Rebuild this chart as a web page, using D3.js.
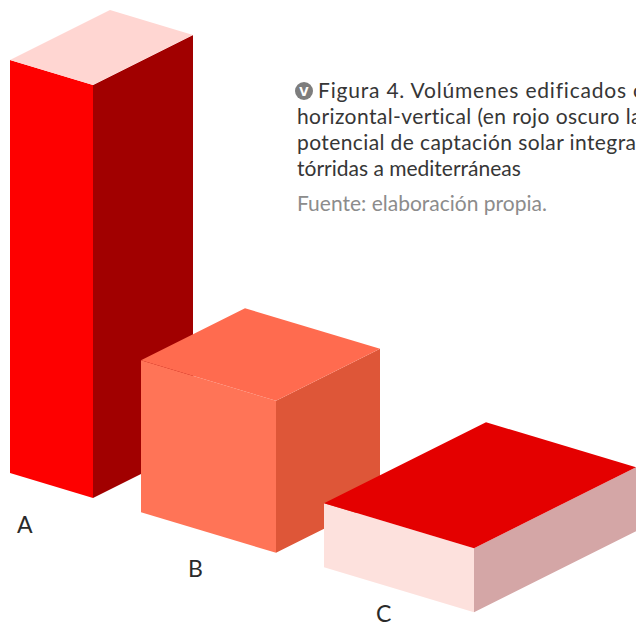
<!DOCTYPE html>
<html>
<head>
<meta charset="utf-8">
<script src="https://d3js.org/d3.v7.min.js"></script>
<style>
    body { margin: 0; background: #fff; overflow: hidden; }
    svg { display: block; }
</style>
</head>
<body>
<svg width="636" height="624"></svg>
<script>
    // volumes (units = metres-ish)
    const categories = ['A', 'B', 'C'];
    const widths  = [8.3, 13.5, 15.0];   // along the front edge
    const depths  = [10.0, 10.4, 16.2];  // going back to the right
    const heights = [41.3, 15.2, 6.4];

    const frontColors = ['#fe0000', '#ff7457', '#fde1dd'];
    const sideColors  = ['#a10000', '#de5638', '#d4a6a6'];
    const topColors   = ['#ffd6d2', '#ff6b4f', '#e40000'];

    const captionLines = [
        'Figura 4. Volúmenes edificados con',
        'horizontal-vertical (en rojo oscuro las',
        'potencial de captación solar integrada',
        'tórridas a mediterráneas'
    ];
    const source = 'Fuente: elaboración propia.';
    // the original face is a little wider than Lato on some lines
    const lineSpacing = [0.8, 0.4, 0.4, 0];

    const svg = d3.select('svg');

    // one unit -> pixels, and the ground origin of the first box
    const s = d3.scaleLinear().domain([0, 1]).range([0, 10]);
    const gap = 4.8;
    const ox = 10, oy = 473;

    // oblique projection: x goes right-down, z goes right-up, y goes up
    const proj = (gx, gz, h) => [ox + s(gx) + s(gz), oy + 0.3 * s(gx) - 0.5 * s(gz) - s(h)];

    // cumulative offset of each box along the row
    const offsets = [];
    let acc = 0;
    widths.forEach(w => { offsets.push(acc); acc += w + gap; });

    const boxes = categories.map((c, i) => ({
        name: c, x: offsets[i], w: widths[i], d: depths[i], h: heights[i], i: i
    }));

    const line = pts => 'M' + pts.map(p => p.join(',')).join('L') + 'Z';

    const g = svg.selectAll('g.box')
        .data(boxes)
        .enter().append('g')
        .attr('class', 'box');

    // front face
    g.append('path')
        .attr('d', b => line([proj(b.x, 0, 0), proj(b.x + b.w, 0, 0), proj(b.x + b.w, 0, b.h), proj(b.x, 0, b.h)]))
        .attr('fill', b => frontColors[b.i]);
    // right face
    g.append('path')
        .attr('d', b => line([proj(b.x + b.w, 0, 0), proj(b.x + b.w, b.d, 0), proj(b.x + b.w, b.d, b.h), proj(b.x + b.w, 0, b.h)]))
        .attr('fill', b => sideColors[b.i]);
    // top face
    g.append('path')
        .attr('d', b => line([proj(b.x, 0, b.h), proj(b.x + b.w, 0, b.h), proj(b.x + b.w, b.d, b.h), proj(b.x, b.d, b.h)]))
        .attr('fill', b => topColors[b.i]);

    // letters under each box
    const labelPos = [[17, 533], [188, 577], [376, 622]];
    svg.selectAll('text.lbl')
        .data(boxes)
        .enter().append('text')
        .attr('class', 'lbl')
        .attr('x', b => labelPos[b.i][0])
        .attr('y', b => labelPos[b.i][1])
        .attr('font-family', 'Lato, sans-serif')
        .attr('font-size', 23)
        .attr('fill', '#2a2a2a')
        .text(b => b.name);

    // caption
    const cap = svg.append('g');
    cap.append('circle').attr('cx', 304).attr('cy', 91).attr('r', 9).attr('fill', '#7d7d7d');
    cap.append('text')
        .attr('x', 304).attr('y', 96)
        .attr('text-anchor', 'middle')
        .attr('font-family', 'DejaVu Sans, sans-serif')
        .attr('font-weight', 'bold')
        .attr('font-size', 12)
        .attr('fill', '#fff')
        .text('V');

    cap.selectAll('text.cl')
        .data(captionLines)
        .enter().append('text')
        .attr('class', 'cl')
        .attr('x', (d, i) => i === 0 ? 318 : 297)
        .attr('y', (d, i) => 98 + i * 26)
        .attr('font-family', 'Lato, sans-serif')
        .attr('font-size', 21)
        .attr('letter-spacing', (d, i) => lineSpacing[i])
        .attr('fill', '#363636')
        .text(d => d);

    cap.append('text')
        .attr('x', 297).attr('y', 211)
        .attr('font-family', 'Lato, sans-serif')
        .attr('font-size', 21)
        .attr('fill', '#8c8c8c')
        .text(source);
</script>
</body>
</html>
